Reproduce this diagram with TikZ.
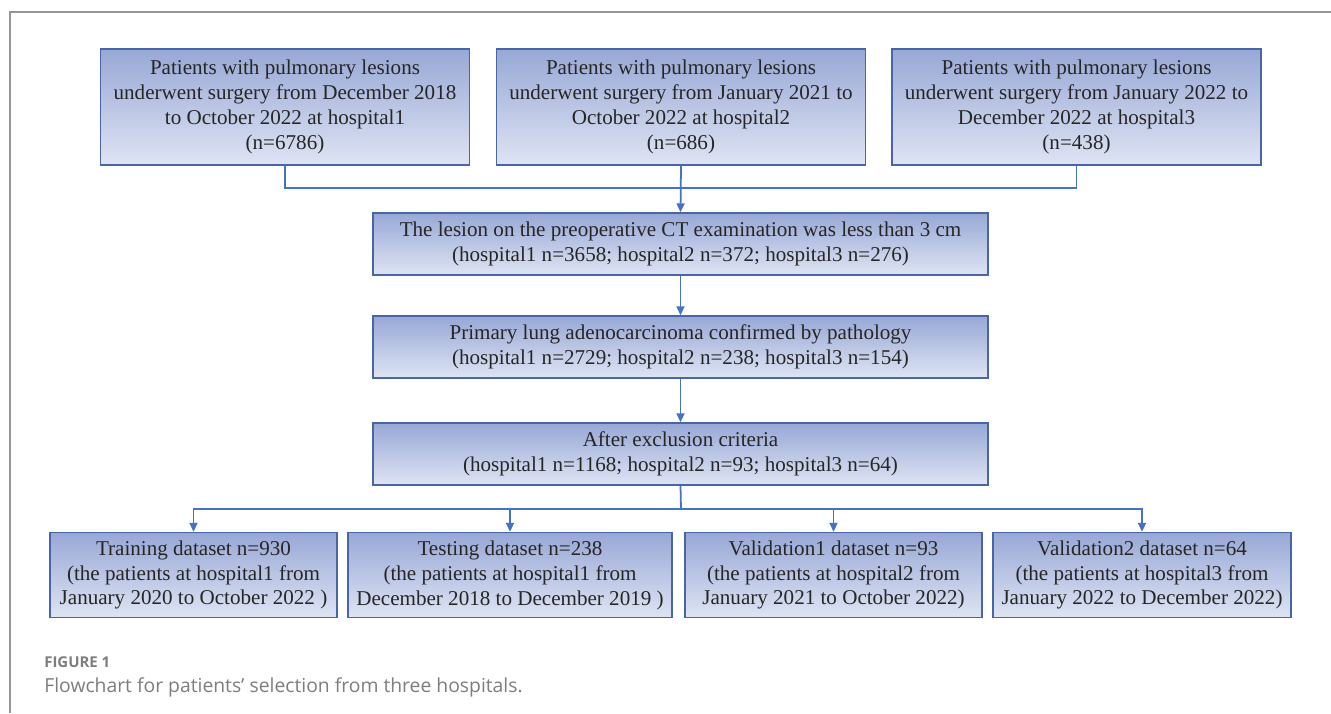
\documentclass[tikz,border=0pt]{standalone}
\usepackage{fontspec}
\setmainfont{Liberation Serif}
\newfontfamily\capfont{Open Sans}
\usetikzlibrary{positioning, arrows.meta}

\definecolor{boxtop}{RGB}{152,168,214}
\definecolor{boxbot}{RGB}{222,228,243}
\definecolor{boxline}{RGB}{72,102,165}
\definecolor{linkcol}{RGB}{68,114,196}
\definecolor{framecol}{RGB}{150,150,150}
\definecolor{capcol}{RGB}{125,125,125}

\begin{document}
\begin{tikzpicture}[
    x=0.02cm, y=-0.02cm,
    % styles
    basic/.style={draw=boxline, line width=0.8pt, top color=boxtop, bottom color=boxbot,
        align=center, inner sep=0pt, font=\fontsize{12}{14.2}\selectfont, text=black!85},
    hosp/.style={basic, minimum width=7.38cm, minimum height=2.32cm},
    filt/.style={basic, minimum width=12.3cm, minimum height=1.24cm},
    subset/.style={basic, minimum height=1.7cm},
    link/.style={draw=linkcol, line width=1pt},
    arrow/.style={link, -{Triangle[length=0.18cm, width=0.16cm]}}
]
\useasboundingbox (0,0) rectangle (1331,713);

% --- frame ---
\draw[framecol, line width=0.6pt] (10,713) -- (10,12) -- (1331,12);

% --- 1. hospitals ---
\node[hosp] (H1) at (285,107) {Patients with pulmonary lesions\\underwent surgery from December 2018\\to October 2022 at hospital1\\(n=6786)};
\node[hosp] (H2) at (681,107) {Patients with pulmonary lesions\\underwent surgery from January 2021 to\\October 2022 at hospital2\\(n=686)};
\node[hosp] (H3) at (1076.5,107) {Patients with pulmonary lesions\\underwent surgery from January 2022 to\\December 2022 at hospital3\\(n=438)};

% --- 2. selection steps ---
\node[filt] (S1) at (680.5,244) {The lesion on the preoperative CT examination was less than 3 cm\\(hospital1 n=3658; hospital2 n=372; hospital3 n=276)};
\node[filt] (S2) at (680.5,347) {Primary lung adenocarcinoma confirmed by pathology\\(hospital1 n=2729; hospital2 n=238; hospital3 n=154)};
\node[filt] (S3) at (680.5,454) {After exclusion criteria\\(hospital1 n=1168; hospital2 n=93; hospital3 n=64)};

% --- 3. datasets ---
\node[subset, minimum width=5.74cm] (D1) at (193.5,575) {Training dataset n=930\\(the patients at hospital1 from\\January 2020 to October 2022 )};
\node[subset, minimum width=6.48cm] (D2) at (510,575) {Testing dataset n=238\\(the patients at hospital1 from\\December 2018 to December 2019 )};
\node[subset, minimum width=5.94cm] (D3) at (833.5,575) {Validation1 dataset n=93\\(the patients at hospital2 from\\January 2021 to October 2022)};
\node[subset, minimum width=5.96cm] (D4) at (1142,575) {Validation2 dataset n=64\\(the patients at hospital3 from\\January 2022 to December 2022)};

% --- connectors ---
\coordinate (merge) at (681,188);
\coordinate (split) at (681,509);

\draw[link] (H1.south) |- (merge) -| (H3.south);
\draw[arrow] (H2.south) -- (S1.north);
\draw[arrow] (S1) -- (S2);
\draw[arrow] (S2) -- (S3);
\draw[link] (S3.south) -- (split);
\foreach \d in {D1,D2,D3,D4}
    \draw[arrow] (split) -| (\d.north);

% --- caption ---
\node[anchor=base west, font=\capfont\bfseries\fontsize{8.5}{10}\selectfont, text=capcol, inner sep=0pt] (fig) at (44,667) {FIGURE 1};
\node[anchor=base west, font=\capfont\fontsize{11}{13}\selectfont, text=capcol, inner sep=0pt] (cap) at (44,692) {Flowchart for patients’ selection from three hospitals.};

\end{tikzpicture}
\end{document}
